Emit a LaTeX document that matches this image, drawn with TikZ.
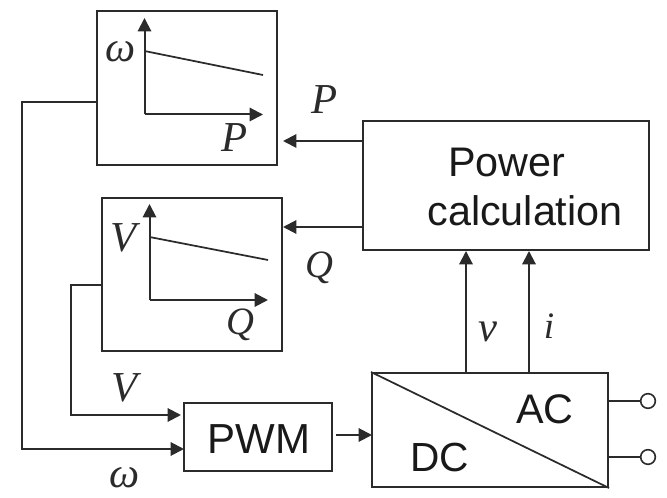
\documentclass[tikz,border=0pt]{standalone}
\usepackage{fontspec}
\setmainfont{Liberation Sans}
\newfontfamily\mathserif{Liberation Serif}
\usetikzlibrary{arrows.meta}
\definecolor{ink}{HTML}{2B2B2B}
\tikzset{
  blockbox/.style={draw=ink,line width=1.5pt,inner sep=0pt},
  wire/.style={draw=ink,line width=1.5pt},
  arrowed/.style={wire,-{Triangle[length=10pt,width=10pt]}},
  maths/.style={anchor=base,inner sep=0pt,text=ink,font=\mathserif\itshape\fontsize{#1}{#1}\selectfont},
  maths/.default=32,
  sans/.style={anchor=base,inner sep=0pt,text=black!90,font=\fontsize{#1}{#1}\selectfont},
  terminal/.style={circle,draw=ink,line width=1.2pt,fill=white,minimum size=11pt,inner sep=0pt}
}
\begin{document}
\begin{tikzpicture}[x=0.75pt,y=-0.75pt]
\useasboundingbox (0,0) rectangle (667,498);
% blocks
\node[blockbox,minimum width=135pt,minimum height=115.5pt] (droopA) at (187,88) {};
\node[blockbox,minimum width=135pt,minimum height=114.75pt] (droopB) at (192,274.5) {};
\node[blockbox,minimum width=214.5pt,minimum height=96.75pt] (power) at (506,185.5) {};
\node[blockbox,minimum width=177pt,minimum height=85.5pt] (conv) at (490,430) {};
\node[blockbox,minimum width=111pt,minimum height=51pt] (pwm) at (258,437) {};
% converter diagonal
\draw[wire,line width=1.3pt] (conv.north west) -- (conv.south east);
% droop A chart
\coordinate (aO) at (144.5,114.5);
\coordinate (aY) at (144.5,18);
\coordinate (aX) at (263,114.5);
\coordinate (aS) at (144.5,51);
\coordinate (aE) at (263,75);
\draw[arrowed] (aO) -- (aY);
\draw[arrowed] (aO) -- (aX);
\draw[wire,line width=1.3pt] (aS) -- (aE);
% droop B chart
\coordinate (bO) at (149.5,300);
\coordinate (bY) at (149.5,204);
\coordinate (bX) at (268,300);
\coordinate (bS) at (149.5,237);
\coordinate (bE) at (268,260);
\draw[arrowed] (bO) -- (bY);
\draw[arrowed] (bO) -- (bX);
\draw[wire,line width=1.3pt] (bS) -- (bE);
% connectors
\coordinate (aOut) at (97,102);
\coordinate (aTurnA) at (22,102);
\coordinate (aTurnB) at (22,449);
\coordinate (aIn) at (184,449);
\draw[arrowed] (aOut) -- (aTurnA) -- (aTurnB) -- (aIn);
\coordinate (bOut) at (102,285);
\coordinate (bTurnA) at (71,285);
\coordinate (bTurnB) at (71,415);
\coordinate (bIn) at (181,415);
\draw[arrowed] (bOut) -- (bTurnA) -- (bTurnB) -- (bIn);
\coordinate (pwmOut) at (336,435);
\coordinate (convIn) at (372,435);
\draw[arrowed] (pwmOut) -- (convIn);
\coordinate (powA) at (363,141);
\coordinate (droopAin) at (283,141);
\draw[arrowed] (powA) -- (droopAin);
\coordinate (powB) at (363,227);
\coordinate (droopBin) at (283,227);
\draw[arrowed] (powB) -- (droopBin);
\draw[arrowed] (conv.north -| 466,0) -- (power.south -| 466,0);
\draw[arrowed] (conv.north -| 529,0) -- (power.south -| 529,0);
% terminals
\node[terminal] (tA) at (648,401) {};
\node[terminal] (tB) at (648,457) {};
\draw[wire,line width=1.2pt] (conv.east |- tA) -- (tA);
\draw[wire,line width=1.2pt] (conv.east |- tB) -- (tB);
% maths labels
\node[maths] (lA) at (121,62) {ω};
\node[maths] (lB) at (235,151.5) {P};
\node[maths] (lC) at (325,114) {P};
\node[maths] (lD) at (124,252) {V};
\node[maths=29] (lE) at (240,335) {Q};
\node[maths=29] (lF) at (319,278) {Q};
\node[maths] (lG) at (125,402) {V};
\node[maths] (lH) at (125,487) {ω};
\node[maths] (lI) at (488,342) {v};
\node[maths=28] (lJ) at (549,339) {i};
% sans labels
\node[sans=31] (tPower) at (507,177) {Power};
\node[sans=31] (tCalc) at (525,226) {calculation};
\node[sans=31.5] (tPWM) at (259,453) {PWM};
\node[sans=31] (tAC) at (545,424) {AC};
\node[sans=30.5] (tDC) at (440,471) {DC};
\end{tikzpicture}
\end{document}
